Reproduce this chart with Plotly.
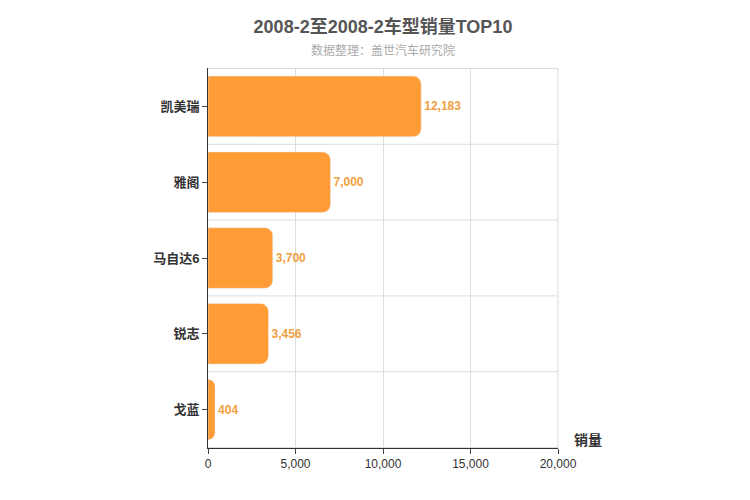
import plotly.graph_objects as go

models = ["凯美瑞", "雅阁", "马自达6", "锐志", "戈蓝"]
sales = [12183, 7000, 3700, 3456, 404]
x_ticks = [0, 5000, 10000, 15000, 20000]

fig = go.Figure(go.Bar(
    x=sales, y=models, orientation="h",
    marker=dict(color="#FF9C35", cornerradius=8),
    width=0.8,
    text=[f"<b>{v:,}</b>" for v in sales],
    textposition="outside",
    textfont=dict(color="#F0A040", size=12, family="Liberation Sans, DejaVu Sans"),
    cliponaxis=False,
))

fig.update_layout(
    width=750, height=500,
    margin=dict(l=200, r=200, t=60, b=60, autoexpand=False),
    plot_bgcolor="white", paper_bgcolor="white",
    font=dict(family="Liberation Sans, Noto Sans CJK SC", color="#333"),
    title=dict(text="<b>2008-2至2008-2车型销量TOP10</b>", x=0.5, y=0.975,
               font=dict(size=18, color="#555"), automargin=False),
    showlegend=False,
    annotations=[
        dict(text="数据整理：盖世汽车研究院", x=0.5, y=1.07, xref="paper", yref="paper",
             showarrow=False, font=dict(size=12, color="#aaa")),
        dict(text="<b>销量</b>", x=1.04, y=-0.005, xref="paper", yref="paper",
             xanchor="left", showarrow=False, font=dict(size=14, color="#333")),
    ],
)
fig.update_xaxes(range=[0, 20000], tickvals=x_ticks, tickformat=",",
                 showgrid=True, gridcolor="#ddd", zeroline=False, automargin=False,
                 showline=True, linecolor="#333", ticks="outside",
                 tickfont=dict(size=12))
fig.update_yaxes(autorange="reversed", showline=True, linecolor="#333", automargin=False,
                 ticks="outside", showgrid=False,
                 tickvals=models, ticktext=[f"<b>{m}</b>" for m in models],
                 tickfont=dict(size=13, color="#333"))
# horizontal grid lines between categories
for i in range(len(models) + 1):
    fig.add_shape(type="line", xref="paper", x0=0, x1=1, yref="y",
                  y0=i - 0.5, y1=i - 0.5, line=dict(color="#ddd", width=1), layer="below")
fig.add_shape(type="line", xref="paper", x0=1, x1=1, yref="paper", y0=0, y1=1,
              line=dict(color="#ddd", width=1), layer="below")

fig.write_html("out.html")
